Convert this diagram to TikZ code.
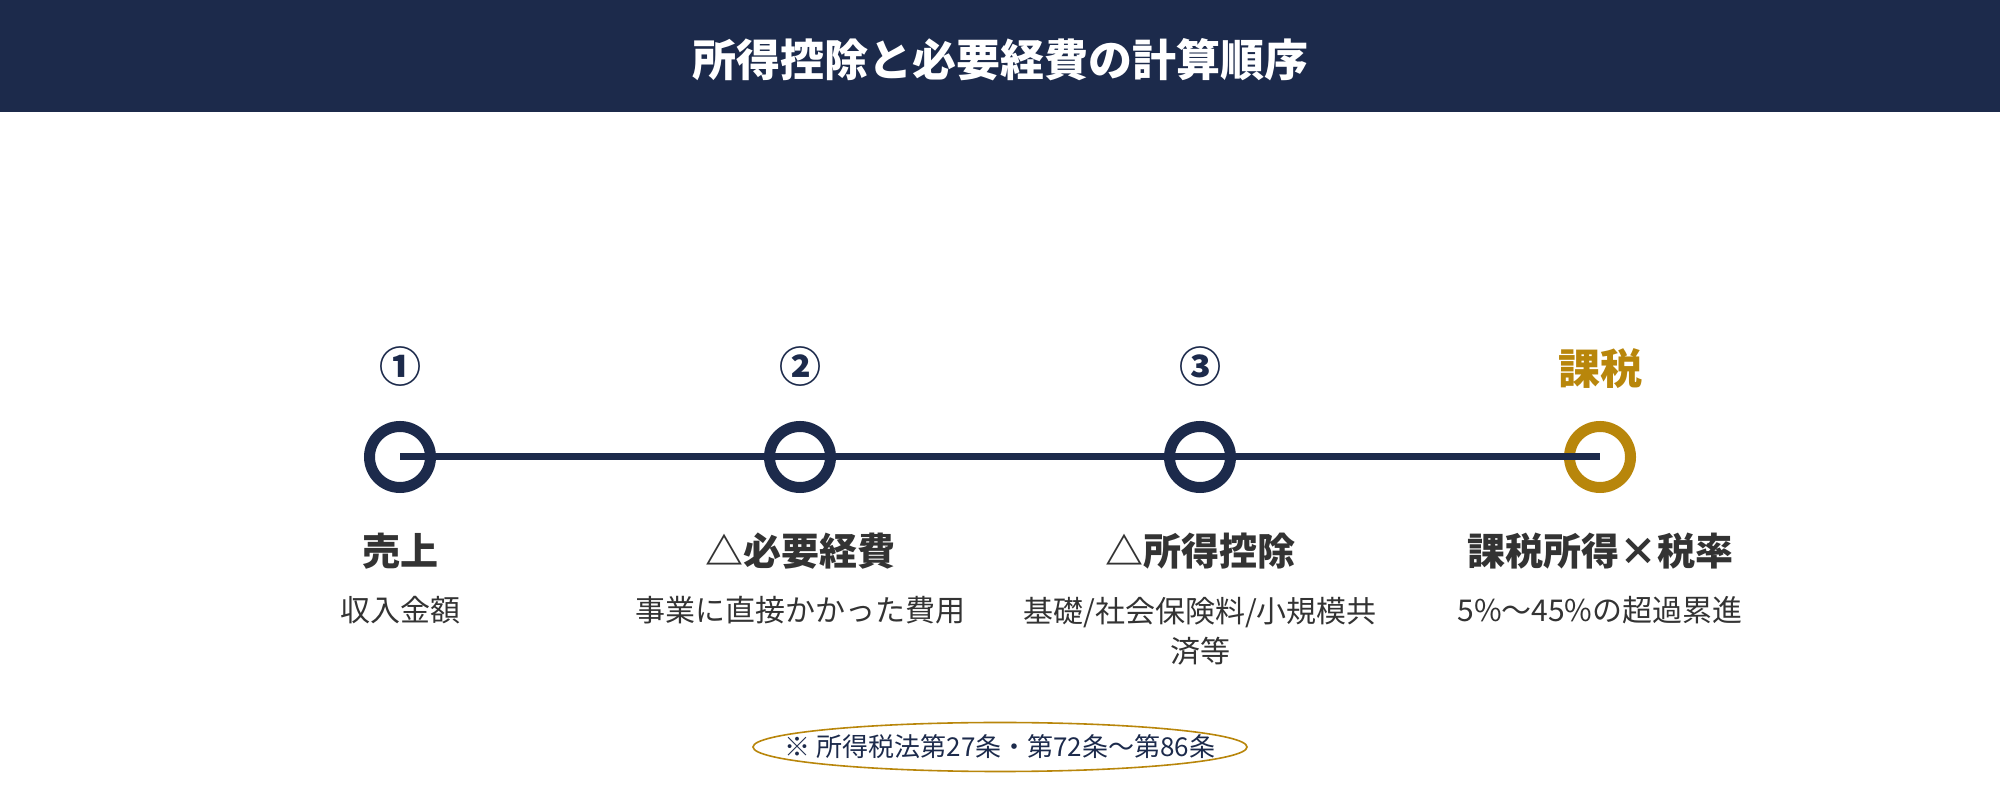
\documentclass[tikz,border=0pt]{standalone}
\usepackage{fontspec}
\setmainfont{Noto Sans CJK JP}
\usepackage{tikz}
\usetikzlibrary{ positioning, shapes.geometric }
\definecolor{navy}{HTML}{1C2A4B}
\definecolor{gold}{HTML}{B8860B}
\definecolor{ink}{HTML}{333333}
\tikzset{
every node/.style={inner sep=1pt},
stepdot/.style={circle, draw=navy, line width=11pt, minimum size=61pt, inner sep=0pt}, % the rings on the line
stepnum/.style={text=navy, font=\bfseries\fontsize{42}{48}\selectfont},
steptitle/.style={text=ink, font=\bfseries\fontsize{38}{44}\selectfont},
stepnote/.style={text=ink, align=center, font=\fontsize{30}{40}\selectfont},
}
\begin{document}
\begin{tikzpicture}[x=1pt, y=1pt]
  \useasboundingbox (0,0) rectangle (2000,800);
  % header band
  \fill[navy] (0,688) rectangle (2000,800);
  \node[text=white, font=\bfseries\fontsize{44}{50}\selectfont] (title) at (1000,740) {所得控除と必要経費の計算順序};

  \node[stepdot] (s1) at (400,343) {};
  \node[stepdot, right=400pt of s1.center, anchor=center] (s2) {};
  \node[stepdot, right=400pt of s2.center, anchor=center] (s3) {};
  \node[stepdot, draw=gold, right=400pt of s3.center, anchor=center] (s4) {};

  \node[stepnum, above=90pt of s1.center, anchor=center] (n1) {①};
  \node[stepnum, above=90pt of s2.center, anchor=center] (n2) {②};
  \node[stepnum, above=90pt of s3.center, anchor=center] (n3) {③};
  \node[stepnum, text=gold, above=88pt of s4.center, anchor=center] (n4) {課税};

  \node[steptitle, below=94pt of s1.center, anchor=center] (t1) {売上};
  \node[steptitle, below=94pt of s2.center, anchor=center] (t2) {△必要経費};
  \node[steptitle, below=94pt of s3.center, anchor=center] (t3) {△所得控除};
  \node[steptitle, below=94pt of s4.center, anchor=center] (t4) {課税所得×税率};

  \node[stepnote, below=153pt of s1.center, anchor=center] (d1) {収入金額};
  \node[stepnote, below=153pt of s2.center, anchor=center] (d2) {事業に直接かかった費用};
  \node[stepnote, below=153pt of s3.center, anchor=north, yshift=14pt] (d3) {基礎/社会保険料/小規模共\\済等};
  \node[stepnote, below=153pt of s4.center, anchor=center] (d4) {5\%〜45\%の超過累進};

  \draw[navy, line width=7pt] (s1.center) -- (s4.center);

  % legal reference
  \node[text=navy, font=\fontsize{26}{30}\selectfont] (law) at (1000,53) {※ 所得税法第27条・第72条〜第86条};
  \draw[gold, line width=1.6pt] (law.center) ellipse [x radius=247, y radius=24.5];
\end{tikzpicture}
\end{document}
